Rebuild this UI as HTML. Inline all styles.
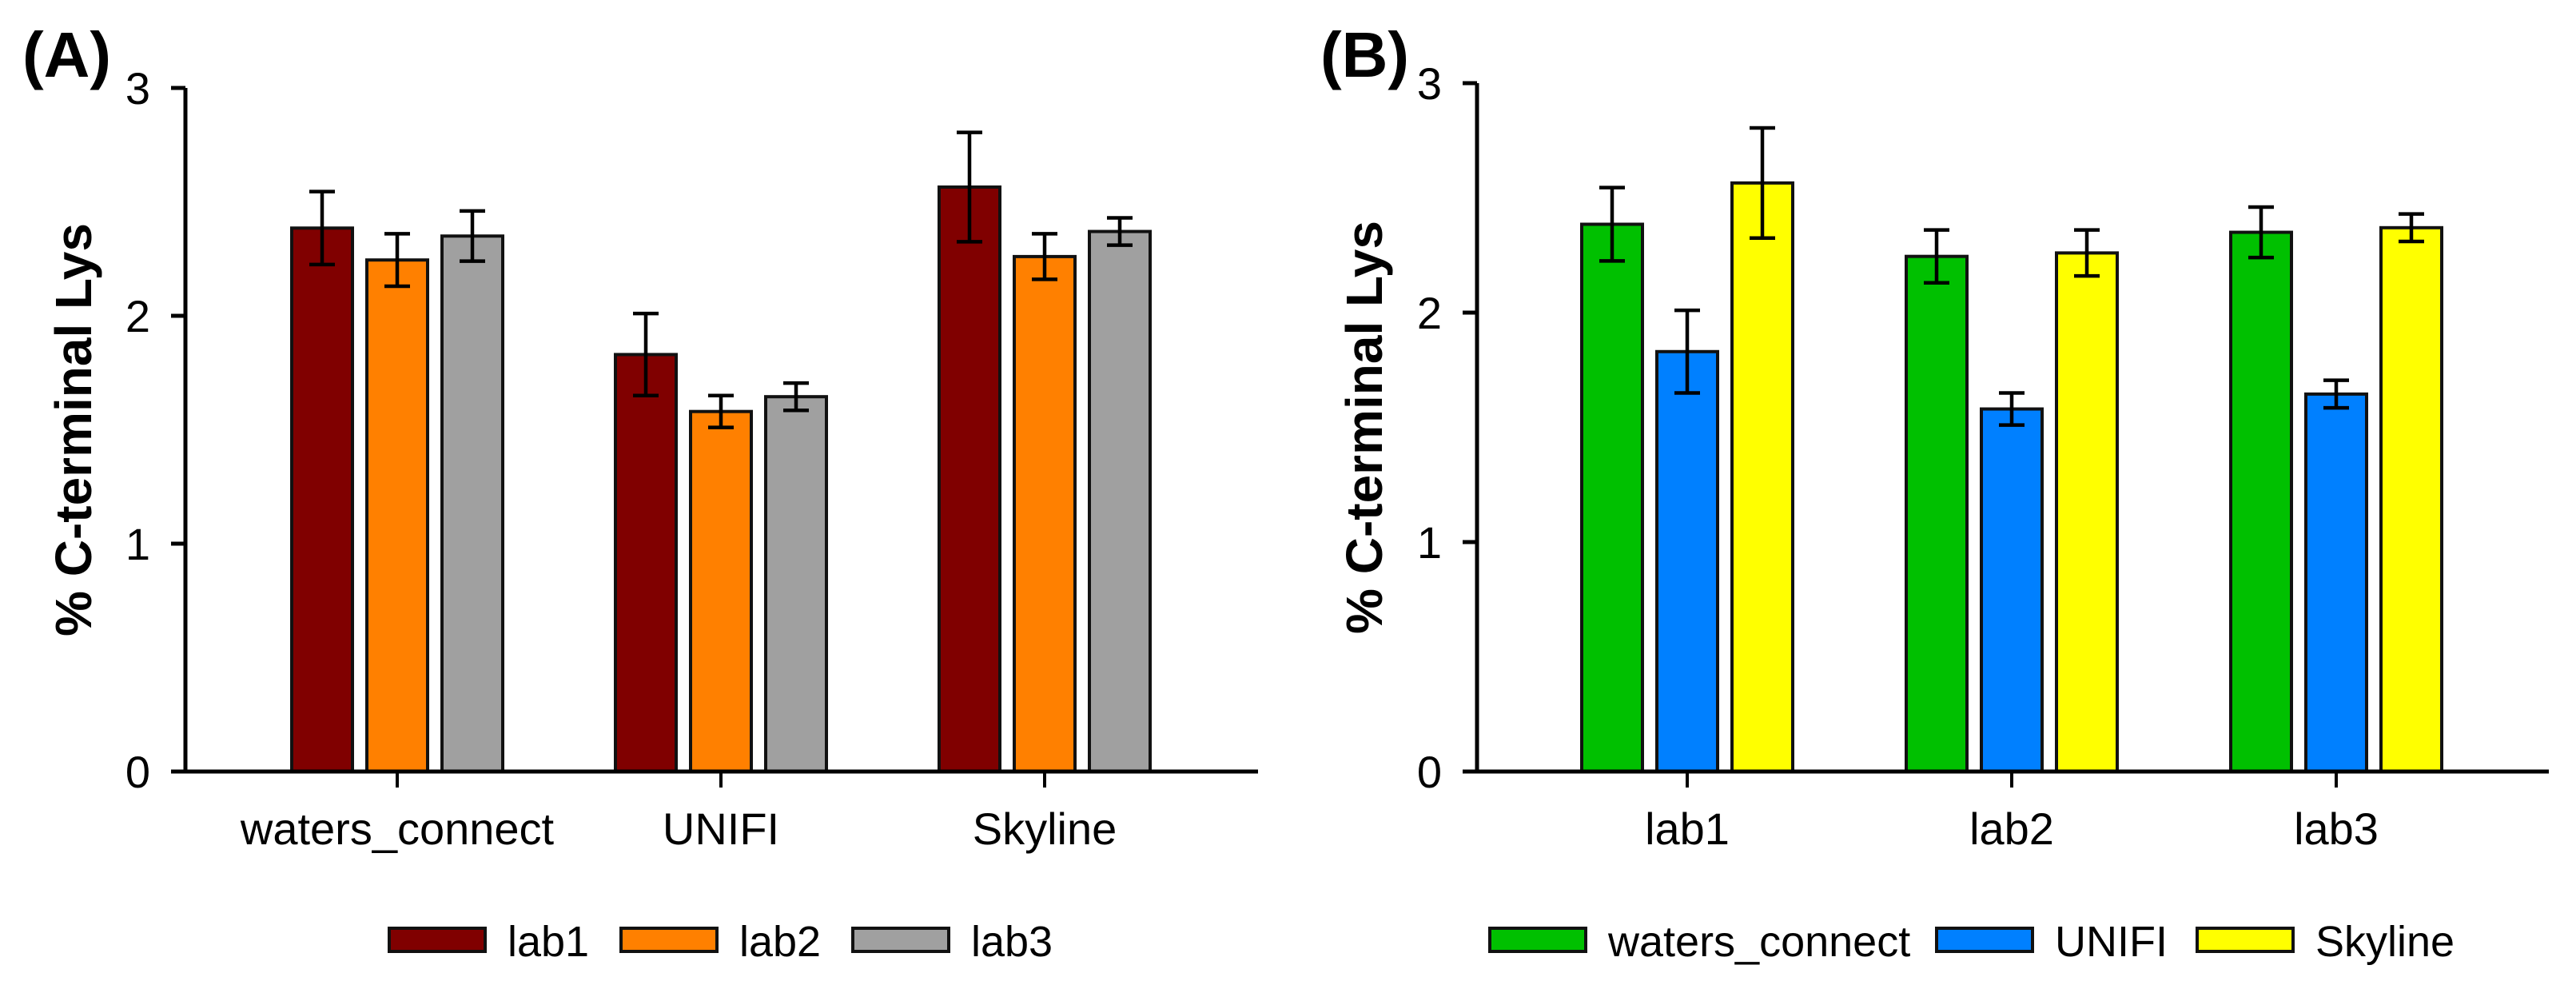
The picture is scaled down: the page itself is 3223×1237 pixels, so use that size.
<!DOCTYPE html>
<html><head><meta charset="utf-8"><style>
html,body{margin:0;padding:0;background:#fff}
svg{display:block}
text{font-family:"Liberation Sans",Arial,sans-serif;fill:#000}
</style></head><body>
<svg id="fig" width="3223" height="1237" viewBox="0 0 3223 1237" xmlns="http://www.w3.org/2000/svg">
<rect width="3223" height="1237" fill="#fff"/>
</svg>
<script>
const softwares = ["waters_connect","UNIFI","Skyline"];
const labs = ["lab1","lab2","lab3"];
// means[software][lab]
const meanWC = [2.385, 2.245, 2.35];
const meanUNIFI = [1.83, 1.58, 1.645];
const meanSkyline = [2.565, 2.26, 2.37];
const errWC = [0.16, 0.115, 0.11];
const errUNIFI = [0.18, 0.07, 0.06];
const errSkyline = [0.24, 0.10, 0.06];
const yTicks = [0, 1, 2, 3];

const means = [meanWC, meanUNIFI, meanSkyline];
const errs = [errWC, errUNIFI, errSkyline];
const NS = "http://www.w3.org/2000/svg";
const svg = document.getElementById('fig');

function mk(tag, attrs, parent, txt){
  const e = document.createElementNS(NS, tag);
  for (const k in attrs) e.setAttribute(k, attrs[k]);
  if (txt !== undefined) e.textContent = txt;
  (parent||svg).appendChild(e);
  return e;
}

function panel(cfg){
  const g = mk('g', {});
  
  
  const y = v => cfg.y0 - v * cfg.unit;
  const xc = i => cfg.c0 + i * cfg.step;
  for (let gi = 0; gi < cfg.groups.length; gi++){
    for (let si = 0; si < cfg.series.length; si++){
      const v = cfg.val(gi, si), e = cfg.err(gi, si);
      const cx = xc(gi) + (si - 1) * 94;
      const r = mk('rect', {x: cx - 38, y: y(v), width: 76, height: y(0) - y(v), fill: cfg.colors[si], stroke: '#111', 'stroke-width': 4}, g);
      
      
      const eb = mk('path', {d: `M${cx},${y(v+e)}V${y(v-e)}M${cx-16},${y(v+e)}H${cx+16}M${cx-16},${y(v-e)}H${cx+16}`, stroke: '#000', 'stroke-width': 4.5, fill: 'none'}, g);
      
      
    }
  }
  const ax = mk('path', {d: `M${cfg.ax},${y(3)}V${y(0)}H${cfg.axEnd}`, stroke: '#000', 'stroke-width': 5, fill: 'none'}, g);
  
  
  for (const t of yTicks){
    mk('line', {x1: cfg.ax - 18, x2: cfg.ax, y1: y(t), y2: y(t), stroke: '#000', 'stroke-width': 5}, g);
    const tl = mk('text', {x: cfg.ax - 44, y: y(t) + 20, 'font-size': 56, 'text-anchor': 'end'}, g, String(t));
    
    
  }
  for (let gi = 0; gi < cfg.groups.length; gi++){
    mk('line', {x1: xc(gi), x2: xc(gi), y1: y(0), y2: y(0) + 20, stroke: '#000', 'stroke-width': 4}, g);
    const xl = mk('text', {x: xc(gi), y: 1056, 'font-size': 56, 'text-anchor': 'middle'}, g, cfg.groups[gi]);
    
    
  }
  const yt = mk('text', {x: 0, y: 0, 'font-size': 64, 'font-weight': 'bold', 'text-anchor': 'middle', transform: `translate(${cfg.ylx},${(y(0)+y(3))/2}) rotate(-90)`}, g, '% C-terminal Lys');
  
  
  const pl = mk('text', {x: cfg.labX, y: 96, 'font-size': 80, 'font-weight': 'bold'}, g, cfg.label);
  
  
  for (let si = 0; si < cfg.series.length; si++){
    const lx = cfg.legX[si];
    const le = mk('g', {}, g);
    
    
    mk('rect', {x: lx, y: 1161, width: 120, height: 29, fill: cfg.colors[si], stroke: '#111', 'stroke-width': 4}, le);
    mk('text', {x: lx + 148, y: 1196, 'font-size': 54}, le, cfg.series[si]);
  }
}

panel({name: 'panel-a', label: '(A)', labX: 28, groups: softwares, series: labs,
  val: (g, s) => means[g][s], err: (g, s) => errs[g][s],
  colors: ['#800000', '#FF8000', '#A0A0A0'],
  y0: 965, unit: 285, ax: 232, axEnd: 1574, c0: 497, step: 405, ylx: 114,
  legX: [487, 777, 1067]});
panel({name: 'panel-b', label: '(B)', labX: 1652, groups: labs, series: softwares,
  val: (g, s) => means[s][g], err: (g, s) => errs[s][g],
  colors: ['#00C000', '#0080FF', '#FFFF00'],
  y0: 965, unit: 287, ax: 1848, axEnd: 3189, c0: 2111, step: 406, ylx: 1729,
  legX: [1864, 2423, 2749]});
</script>
</body></html>
